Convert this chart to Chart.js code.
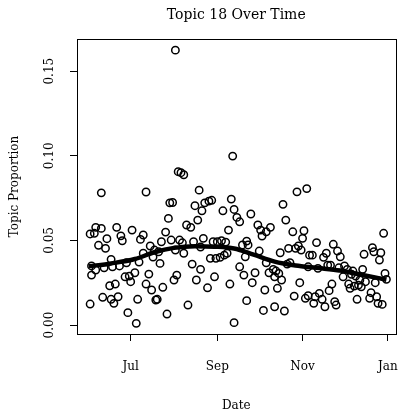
<!DOCTYPE html>
<html><head><meta charset="utf-8">
<script src="https://cdn.jsdelivr.net/npm/chart.js@4/dist/chart.umd.min.js"></script>
<style>html,body{margin:0;padding:0;background:#fff}</style>
</head><body>
<canvas id="c" width="401" height="419"></canvas>
<script>
// day-of-year (Jan 1 = 1; 366 = Jan 1 of next year)
const days = [153,154,154,153,156,157,161,159,161,162,163,164,165,167,168,168,169,170,171,172,173,174,175,176,178,179,180,181,182,183,185,186,187,189,191,191,193,193,195,196,197,200,157,188,198,199,202,201,203,204,205,207,208,209,210,212,211,213,214,215,216,218,220,217,219,220,222,225,223,226,227,228,229,230,231,232,233,234,235,238,240,237,239,241,242,243,244,246,247,248,249,250,251,252,253,254,255,256,256,214,232,258,260,260,262,263,264,265,265,266,268,269,271,273,274,275,276,277,278,279,279,281,282,284,286,285,285,287,288,289,290,291,292,293,294,296,295,298,299,300,301,302,303,304,305,306,307,308,309,310,309,312,314,313,315,316,317,320,319,321,322,323,324,325,326,327,328,329,330,331,332,334,335,337,338,339,340,341,342,343,344,345,346,347,348,349,350,353,354,355,356,357,358,359,360,361,362,363,364,365];
const proportions = [0.0124,0.0295,0.0349,0.0538,0.0542,0.0577,0.0571,0.0471,0.0781,0.0164,0.0338,0.0453,0.0510,0.0232,0.0388,0.0152,0.0344,0.0128,0.0242,0.0577,0.0167,0.0349,0.0527,0.0498,0.0285,0.0368,0.0073,0.0289,0.0256,0.0561,0.0309,0.0010,0.0152,0.0506,0.0532,0.0424,0.0242,0.0786,0.0301,0.0467,0.0207,0.0148,0.0325,0.0372,0.0402,0.0443,0.0433,0.0152,0.0364,0.0492,0.0223,0.0549,0.0065,0.0630,0.0722,0.0724,0.0502,0.0266,0.1624,0.0295,0.0906,0.0900,0.0888,0.0502,0.0486,0.0424,0.0591,0.0577,0.0118,0.0360,0.0492,0.0705,0.0266,0.0620,0.0797,0.0329,0.0675,0.0512,0.0722,0.0732,0.0737,0.0220,0.0394,0.0492,0.0285,0.0394,0.0492,0.0400,0.0498,0.0675,0.0413,0.0490,0.0424,0.0561,0.0242,0.0744,0.0998,0.0683,0.0014,0.0443,0.0461,0.0636,0.0610,0.0344,0.0473,0.0295,0.0403,0.0496,0.0144,0.0473,0.0656,0.0250,0.0309,0.0591,0.0437,0.0561,0.0526,0.0086,0.0207,0.0551,0.0368,0.0309,0.0577,0.0329,0.0319,0.0285,0.0108,0.0217,0.0305,0.0427,0.0266,0.0713,0.0083,0.0620,0.0360,0.0368,0.0453,0.0551,0.0171,0.0453,0.0787,0.0467,0.0250,0.0443,0.0512,0.0557,0.0158,0.0806,0.0173,0.0413,0.0344,0.0413,0.0167,0.0128,0.0487,0.0335,0.0187,0.0400,0.0152,0.0108,0.0424,0.0354,0.0203,0.0354,0.0242,0.0477,0.0138,0.0118,0.0437,0.0338,0.0403,0.0285,0.0349,0.0329,0.0242,0.0217,0.0300,0.0319,0.0230,0.0289,0.0152,0.0236,0.0266,0.0226,0.0329,0.0418,0.0256,0.0158,0.0191,0.0457,0.0433,0.0250,0.0167,0.0128,0.0384,0.0427,0.0122,0.0542,0.0305,0.0270];
const smoothDays = [152,168,185,199,213,228,242,256,270,285,300,315,332,348,365];
const smoothValues = [0.0347,0.0364,0.0390,0.0430,0.0456,0.0466,0.0463,0.0452,0.0416,0.0375,0.0352,0.0338,0.0322,0.0296,0.0268];
const xTickDays = [182,244,305,366];
const xTickLabels = ['Jul','Sep','Nov','Jan'];
const yTickValues = [0,0.05,0.10,0.15];
const yTickLabels = ['0.00','0.05','0.10','0.15'];
const titleText = 'Topic 18 Over Time';

const FONT = "'DejaVu Serif', serif";

const decor = {
  id: 'decor',
  afterDraw(chart) {
    const {ctx, chartArea: a, scales} = chart;
    ctx.save();
    ctx.strokeStyle = '#000';
    ctx.lineWidth = 1;
    ctx.strokeRect(Math.round(a.left) + 0.5, Math.round(a.top) + 0.5, Math.round(a.right - a.left), Math.round(a.bottom - a.top));
    ctx.fillStyle = '#000';
    ctx.textAlign = 'center';
    ctx.textBaseline = 'middle';
    ctx.font = '14px ' + FONT;
    ctx.fillText(titleText, (a.left + a.right) / 2, 15);
    ctx.font = '12px ' + FONT;
    yTickValues.forEach((v, i) => {
      const y = scales.y.getPixelForValue(v);
      ctx.save();
      ctx.translate(50, y);
      ctx.rotate(-Math.PI / 2);
      ctx.fillText(yTickLabels[i], 0, 0);
      ctx.restore();
    });
    ctx.restore();
  }
};

new Chart(document.getElementById('c'), {
  type: 'scatter',
  data: {
    datasets: [
      {
        label: 'smooth',
        data: smoothDays.map((d, i) => ({x: d, y: smoothValues[i]})),
        showLine: true,
        borderColor: '#000',
        borderWidth: 4.5,
        pointRadius: 0,
        cubicInterpolationMode: 'monotone',
        fill: false
      },
      {
        label: 'points',
        data: days.map((d, i) => ({x: d, y: proportions[i]})),
        pointRadius: 3.7,
        pointBorderWidth: 1.5,
        borderColor: '#000',
        backgroundColor: 'rgba(0,0,0,0)'
      }
    ]
  },
  options: {
    responsive: false,
    animation: false,
    devicePixelRatio: 1,
    layout: {padding: {left: 0, right: 4, top: 39, bottom: 0}},
    plugins: {legend: {display: false}, tooltip: {enabled: false}, title: {display: false}},
    scales: {
      x: {
        type: 'linear',
        min: 143.6,
        max: 371.5,
        afterBuildTicks(s) { s.ticks = xTickDays.map(v => ({value: v})); },
        afterFit(s) { s.height = 85; s.paddingLeft = 0; s.paddingRight = 0; },
        grid: {drawOnChartArea: false, drawTicks: true, tickLength: 7, color: '#000'},
        border: {display: true, color: '#000'},
        ticks: {
          autoSkip: false, maxRotation: 0, minRotation: 0, padding: 19, color: '#000',
          font: {family: FONT, size: 12},
          callback(v) { const i = xTickDays.indexOf(v); return i >= 0 ? xTickLabels[i] : ''; }
        },
        title: {display: true, text: 'Date', color: '#000', font: {family: FONT, size: 12}, padding: {top: 0, bottom: 6}}
      },
      y: {
        type: 'linear',
        min: -0.0053,
        max: 0.169,
        afterBuildTicks(s) { s.ticks = yTickValues.map(v => ({value: v})); },
        afterFit(s) { s.width = 77; s.paddingTop = 0; s.paddingBottom = 0; },
        grid: {drawOnChartArea: false, drawTicks: true, tickLength: 7, color: '#000'},
        border: {display: true, color: '#000'},
        ticks: {color: 'rgba(0,0,0,0)', font: {family: FONT, size: 12}, callback(v) { return ''; }},
        title: {display: true, text: 'Topic Proportion', color: '#000', font: {family: FONT, size: 12}, padding: {top: 8, bottom: 0}}
      }
    }
  },
  plugins: [decor]
});
</script>
</body></html>
